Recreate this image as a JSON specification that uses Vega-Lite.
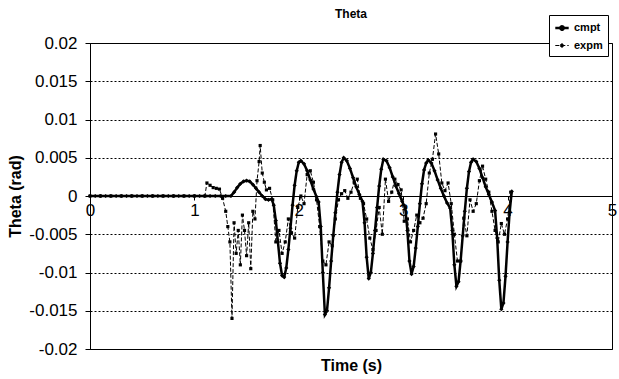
{
  "$schema": "https://vega.github.io/schema/vega-lite/v6.json",
  "width": 522,
  "height": 306,
  "autosize": {"type": "none"},
  "padding": {"left": 90, "top": 43, "right": 7, "bottom": 30},
  "background": "white",
  "title": {"text": "Theta", "font": "Liberation Sans", "fontSize": 12, "fontWeight": "bold", "color": "black", "offset": -6},
  "data": {"values": [
    {"t":0.00,"v":0,"s":"cmpt"},{"t":0.05,"v":0,"s":"cmpt"},{"t":0.10,"v":0,"s":"cmpt"},{"t":0.15,"v":0,"s":"cmpt"},{"t":0.20,"v":0,"s":"cmpt"},{"t":0.25,"v":0,"s":"cmpt"},{"t":0.30,"v":0,"s":"cmpt"},{"t":0.35,"v":0,"s":"cmpt"},{"t":0.40,"v":0,"s":"cmpt"},{"t":0.45,"v":0,"s":"cmpt"},{"t":0.50,"v":0,"s":"cmpt"},{"t":0.55,"v":0,"s":"cmpt"},{"t":0.60,"v":0,"s":"cmpt"},{"t":0.65,"v":0,"s":"cmpt"},{"t":0.70,"v":0,"s":"cmpt"},{"t":0.75,"v":0,"s":"cmpt"},{"t":0.80,"v":0,"s":"cmpt"},{"t":0.85,"v":0,"s":"cmpt"},{"t":0.90,"v":0,"s":"cmpt"},{"t":0.95,"v":0,"s":"cmpt"},{"t":1.00,"v":0,"s":"cmpt"},{"t":1.05,"v":0,"s":"cmpt"},{"t":1.10,"v":0,"s":"cmpt"},{"t":1.15,"v":0,"s":"cmpt"},{"t":1.20,"v":0,"s":"cmpt"},{"t":1.25,"v":0,"s":"cmpt"},{"t":1.30,"v":0,"s":"cmpt"},{"t":1.35,"v":0,"s":"cmpt"},
    {"t":1.38,"v":0.0005,"s":"cmpt"},{"t":1.41,"v":0.0011,"s":"cmpt"},{"t":1.44,"v":0.0016,"s":"cmpt"},{"t":1.47,"v":0.0019,"s":"cmpt"},{"t":1.50,"v":0.0020,"s":"cmpt"},{"t":1.53,"v":0.0019,"s":"cmpt"},{"t":1.56,"v":0.0015,"s":"cmpt"},{"t":1.59,"v":0.0010,"s":"cmpt"},{"t":1.62,"v":0.0005,"s":"cmpt"},{"t":1.65,"v":0.0000,"s":"cmpt"},{"t":1.68,"v":-0.0004,"s":"cmpt"},{"t":1.71,"v":-0.0005,"s":"cmpt"},{"t":1.74,"v":-0.0004,"s":"cmpt"},
    {"t":1.76,"v":-0.0012,"s":"cmpt"},{"t":1.78,"v":-0.0032,"s":"cmpt"},{"t":1.80,"v":-0.0060,"s":"cmpt"},{"t":1.82,"v":-0.0088,"s":"cmpt"},{"t":1.84,"v":-0.0104,"s":"cmpt"},{"t":1.86,"v":-0.0106,"s":"cmpt"},{"t":1.88,"v":-0.0094,"s":"cmpt"},{"t":1.90,"v":-0.0070,"s":"cmpt"},{"t":1.92,"v":-0.0042,"s":"cmpt"},{"t":1.94,"v":-0.0012,"s":"cmpt"},{"t":1.96,"v":0.0014,"s":"cmpt"},{"t":1.98,"v":0.0033,"s":"cmpt"},{"t":2.00,"v":0.0044,"s":"cmpt"},{"t":2.02,"v":0.0046,"s":"cmpt"},{"t":2.05,"v":0.0042,"s":"cmpt"},{"t":2.08,"v":0.0033,"s":"cmpt"},{"t":2.11,"v":0.0021,"s":"cmpt"},{"t":2.14,"v":0.0009,"s":"cmpt"},{"t":2.17,"v":-0.0001,"s":"cmpt"},{"t":2.19,"v":-0.0008,"s":"cmpt"},
    {"t":2.21,"v":-0.0040,"s":"cmpt"},{"t":2.23,"v":-0.0100,"s":"cmpt"},{"t":2.25,"v":-0.0155,"s":"cmpt"},{"t":2.27,"v":-0.0150,"s":"cmpt"},{"t":2.29,"v":-0.0120,"s":"cmpt"},{"t":2.31,"v":-0.0085,"s":"cmpt"},{"t":2.33,"v":-0.0052,"s":"cmpt"},{"t":2.35,"v":-0.0022,"s":"cmpt"},{"t":2.37,"v":0.0005,"s":"cmpt"},{"t":2.39,"v":0.0028,"s":"cmpt"},{"t":2.41,"v":0.0044,"s":"cmpt"},{"t":2.43,"v":0.0050,"s":"cmpt"},{"t":2.46,"v":0.0046,"s":"cmpt"},{"t":2.49,"v":0.0036,"s":"cmpt"},{"t":2.52,"v":0.0024,"s":"cmpt"},{"t":2.55,"v":0.0012,"s":"cmpt"},{"t":2.58,"v":0.0002,"s":"cmpt"},{"t":2.61,"v":-0.0007,"s":"cmpt"},
    {"t":2.63,"v":-0.0035,"s":"cmpt"},{"t":2.65,"v":-0.0080,"s":"cmpt"},{"t":2.67,"v":-0.0108,"s":"cmpt"},{"t":2.69,"v":-0.0100,"s":"cmpt"},{"t":2.71,"v":-0.0075,"s":"cmpt"},{"t":2.73,"v":-0.0045,"s":"cmpt"},{"t":2.75,"v":-0.0015,"s":"cmpt"},{"t":2.77,"v":0.0013,"s":"cmpt"},{"t":2.79,"v":0.0035,"s":"cmpt"},{"t":2.81,"v":0.0048,"s":"cmpt"},{"t":2.84,"v":0.0046,"s":"cmpt"},{"t":2.87,"v":0.0037,"s":"cmpt"},{"t":2.90,"v":0.0025,"s":"cmpt"},{"t":2.93,"v":0.0013,"s":"cmpt"},{"t":2.96,"v":0.0003,"s":"cmpt"},{"t":2.99,"v":-0.0007,"s":"cmpt"},{"t":3.02,"v":-0.0016,"s":"cmpt"},
    {"t":3.04,"v":-0.0045,"s":"cmpt"},{"t":3.06,"v":-0.0085,"s":"cmpt"},{"t":3.08,"v":-0.0102,"s":"cmpt"},{"t":3.10,"v":-0.0092,"s":"cmpt"},{"t":3.12,"v":-0.0068,"s":"cmpt"},{"t":3.14,"v":-0.0040,"s":"cmpt"},{"t":3.16,"v":-0.0010,"s":"cmpt"},{"t":3.18,"v":0.0016,"s":"cmpt"},{"t":3.20,"v":0.0034,"s":"cmpt"},{"t":3.22,"v":0.0043,"s":"cmpt"},{"t":3.24,"v":0.0047,"s":"cmpt"},{"t":3.27,"v":0.0043,"s":"cmpt"},{"t":3.30,"v":0.0033,"s":"cmpt"},{"t":3.33,"v":0.0021,"s":"cmpt"},{"t":3.36,"v":0.0010,"s":"cmpt"},{"t":3.39,"v":0.0000,"s":"cmpt"},{"t":3.42,"v":-0.0009,"s":"cmpt"},{"t":3.45,"v":-0.0016,"s":"cmpt"},
    {"t":3.47,"v":-0.0045,"s":"cmpt"},{"t":3.49,"v":-0.0090,"s":"cmpt"},{"t":3.51,"v":-0.0118,"s":"cmpt"},{"t":3.53,"v":-0.0112,"s":"cmpt"},{"t":3.55,"v":-0.0085,"s":"cmpt"},{"t":3.57,"v":-0.0052,"s":"cmpt"},{"t":3.59,"v":-0.0020,"s":"cmpt"},{"t":3.61,"v":0.0010,"s":"cmpt"},{"t":3.63,"v":0.0032,"s":"cmpt"},{"t":3.65,"v":0.0044,"s":"cmpt"},{"t":3.67,"v":0.0048,"s":"cmpt"},{"t":3.70,"v":0.0045,"s":"cmpt"},{"t":3.73,"v":0.0036,"s":"cmpt"},{"t":3.76,"v":0.0024,"s":"cmpt"},{"t":3.79,"v":0.0012,"s":"cmpt"},{"t":3.82,"v":0.0002,"s":"cmpt"},{"t":3.85,"v":-0.0008,"s":"cmpt"},{"t":3.88,"v":-0.0019,"s":"cmpt"},
    {"t":3.90,"v":-0.0055,"s":"cmpt"},{"t":3.92,"v":-0.0110,"s":"cmpt"},{"t":3.94,"v":-0.0148,"s":"cmpt"},{"t":3.96,"v":-0.0140,"s":"cmpt"},{"t":3.98,"v":-0.0105,"s":"cmpt"},{"t":4.00,"v":-0.0060,"s":"cmpt"},{"t":4.02,"v":-0.0020,"s":"cmpt"},{"t":4.04,"v":0.0006,"s":"cmpt"},
    {"t":0.0,"v":0,"s":"expm"},{"t":0.1,"v":0,"s":"expm"},{"t":0.2,"v":0,"s":"expm"},{"t":0.3,"v":0,"s":"expm"},{"t":0.4,"v":0,"s":"expm"},{"t":0.5,"v":0,"s":"expm"},{"t":0.6,"v":0,"s":"expm"},{"t":0.7,"v":0,"s":"expm"},{"t":0.8,"v":0,"s":"expm"},{"t":0.9,"v":0,"s":"expm"},{"t":1.0,"v":0,"s":"expm"},{"t":1.1,"v":0,"s":"expm"},
    {"t":1.12,"v":0.0017,"s":"expm"},{"t":1.15,"v":0.0014,"s":"expm"},{"t":1.18,"v":0.0011,"s":"expm"},{"t":1.21,"v":0.0010,"s":"expm"},{"t":1.24,"v":0.0009,"s":"expm"},{"t":1.27,"v":-0.0003,"s":"expm"},{"t":1.30,"v":-0.0020,"s":"expm"},{"t":1.32,"v":-0.0040,"s":"expm"},{"t":1.34,"v":-0.0060,"s":"expm"},{"t":1.36,"v":-0.0160,"s":"expm"},{"t":1.38,"v":-0.0035,"s":"expm"},{"t":1.40,"v":-0.0075,"s":"expm"},{"t":1.42,"v":-0.0045,"s":"expm"},{"t":1.44,"v":-0.0090,"s":"expm"},{"t":1.46,"v":-0.0025,"s":"expm"},{"t":1.48,"v":-0.0045,"s":"expm"},{"t":1.50,"v":-0.0078,"s":"expm"},{"t":1.52,"v":-0.0035,"s":"expm"},{"t":1.54,"v":-0.0095,"s":"expm"},{"t":1.56,"v":-0.0020,"s":"expm"},{"t":1.58,"v":-0.0030,"s":"expm"},{"t":1.60,"v":0.0020,"s":"expm"},{"t":1.62,"v":0.0045,"s":"expm"},{"t":1.63,"v":0.0066,"s":"expm"},{"t":1.65,"v":0.0030,"s":"expm"},{"t":1.67,"v":0.0018,"s":"expm"},{"t":1.69,"v":0.0008,"s":"expm"},{"t":1.72,"v":0.0010,"s":"expm"},{"t":1.75,"v":-0.0005,"s":"expm"},{"t":1.78,"v":-0.0060,"s":"expm"},{"t":1.81,"v":-0.0045,"s":"expm"},{"t":1.84,"v":-0.0075,"s":"expm"},{"t":1.87,"v":-0.0060,"s":"expm"},{"t":1.90,"v":-0.0030,"s":"expm"},{"t":1.93,"v":-0.0048,"s":"expm"},{"t":1.96,"v":-0.0055,"s":"expm"},{"t":1.99,"v":-0.0015,"s":"expm"},{"t":2.02,"v":0.0000,"s":"expm"},{"t":2.05,"v":-0.0010,"s":"expm"},{"t":2.08,"v":0.0028,"s":"expm"},{"t":2.11,"v":0.0033,"s":"expm"},{"t":2.14,"v":0.0018,"s":"expm"},{"t":2.17,"v":-0.0005,"s":"expm"},{"t":2.20,"v":-0.0040,"s":"expm"},{"t":2.23,"v":-0.0085,"s":"expm"},{"t":2.26,"v":-0.0090,"s":"expm"},{"t":2.29,"v":-0.0060,"s":"expm"},{"t":2.32,"v":-0.0065,"s":"expm"},{"t":2.35,"v":-0.0030,"s":"expm"},{"t":2.38,"v":-0.0005,"s":"expm"},{"t":2.41,"v":0.0003,"s":"expm"},{"t":2.44,"v":0.0007,"s":"expm"},{"t":2.47,"v":-0.0003,"s":"expm"},{"t":2.50,"v":0.0005,"s":"expm"},{"t":2.53,"v":0.0018,"s":"expm"},{"t":2.56,"v":0.0022,"s":"expm"},{"t":2.59,"v":-0.0003,"s":"expm"},{"t":2.62,"v":-0.0010,"s":"expm"},{"t":2.65,"v":-0.0030,"s":"expm"},{"t":2.68,"v":-0.0055,"s":"expm"},{"t":2.71,"v":-0.0070,"s":"expm"},{"t":2.74,"v":-0.0045,"s":"expm"},{"t":2.77,"v":-0.0015,"s":"expm"},{"t":2.80,"v":-0.0050,"s":"expm"},{"t":2.83,"v":0.0022,"s":"expm"},{"t":2.86,"v":-0.0007,"s":"expm"},{"t":2.89,"v":0.0005,"s":"expm"},{"t":2.92,"v":0.0022,"s":"expm"},{"t":2.95,"v":0.0015,"s":"expm"},{"t":2.98,"v":0.0008,"s":"expm"},{"t":3.01,"v":-0.0033,"s":"expm"},{"t":3.04,"v":-0.0030,"s":"expm"},{"t":3.07,"v":-0.0060,"s":"expm"},{"t":3.10,"v":-0.0045,"s":"expm"},{"t":3.13,"v":-0.0025,"s":"expm"},{"t":3.16,"v":-0.0035,"s":"expm"},{"t":3.19,"v":-0.0029,"s":"expm"},{"t":3.22,"v":-0.0010,"s":"expm"},{"t":3.25,"v":0.0030,"s":"expm"},{"t":3.28,"v":0.0048,"s":"expm"},{"t":3.31,"v":0.0081,"s":"expm"},{"t":3.34,"v":0.0055,"s":"expm"},{"t":3.37,"v":0.0017,"s":"expm"},{"t":3.40,"v":0.0007,"s":"expm"},{"t":3.43,"v":0.0017,"s":"expm"},{"t":3.46,"v":-0.0010,"s":"expm"},{"t":3.49,"v":-0.0050,"s":"expm"},{"t":3.52,"v":-0.0085,"s":"expm"},{"t":3.55,"v":-0.0085,"s":"expm"},{"t":3.58,"v":-0.0029,"s":"expm"},{"t":3.61,"v":-0.0052,"s":"expm"},{"t":3.64,"v":-0.0005,"s":"expm"},{"t":3.67,"v":-0.0020,"s":"expm"},{"t":3.70,"v":-0.0010,"s":"expm"},{"t":3.73,"v":0.0020,"s":"expm"},{"t":3.76,"v":0.0039,"s":"expm"},{"t":3.79,"v":0.0022,"s":"expm"},{"t":3.82,"v":0.0005,"s":"expm"},{"t":3.85,"v":-0.0020,"s":"expm"},{"t":3.88,"v":-0.0045,"s":"expm"},{"t":3.91,"v":-0.0060,"s":"expm"},{"t":3.94,"v":-0.0036,"s":"expm"},{"t":3.97,"v":-0.0050,"s":"expm"},{"t":4.00,"v":-0.0030,"s":"expm"},{"t":4.03,"v":0.0005,"s":"expm"}
  ]},
  "encoding": {
    "x": {"field": "t", "type": "quantitative", "scale": {"domain": [0, 5], "nice": false, "zero": false},
      "axis": {"title": "Time (s)", "values": [0, 1, 2, 3, 4, 5], "labelExpr": "toString(datum.value)", "offset": -153, "grid": false,
        "domainColor": "black", "tickColor": "black", "tickSize": 4, "labelFont": "Liberation Sans", "labelFontSize": 17, "labelColor": "black",
        "labelPadding": 2, "labelFlush": false, "labelOverlap": false,
        "titleFont": "Liberation Sans", "titleFontSize": 16, "titleFontWeight": "bold", "titleColor": "black", "titleY": 169, "titleBaseline": "middle"}},
    "y": {"field": "v", "type": "quantitative", "scale": {"domain": [-0.02, 0.02], "nice": false},
      "axis": {"title": "Theta (rad)", "values": [-0.02, -0.015, -0.01, -0.005, 0, 0.005, 0.01, 0.015, 0.02], "labelExpr": "toString(datum.value)",
        "grid": true, "gridColor": "black", "gridDash": [2, 2], "gridWidth": 1, "gridOpacity": 1,
        "domainColor": "black", "tickColor": "black", "tickSize": 5, "labelPadding": 8, "labelFont": "Liberation Sans", "labelFontSize": 17, "labelColor": "black", "labelOverlap": false,
        "titleFont": "Liberation Sans", "titleFontSize": 16, "titleFontWeight": "bold", "titleColor": "black",
        "titleX": -75, "titleY": 153, "titleAngle": -90, "titleAlign": "center", "titleBaseline": "middle"}}
  },
  "layer": [
    {
      "mark": {"type": "line", "color": "black"},
      "encoding": {
        "strokeDash": {"field": "s", "type": "nominal", "scale": {"domain": ["cmpt", "expm"], "range": [[1, 0], [4, 2]]},
          "legend": {"title": null, "orient": "none", "legendX": 459, "legendY": -28, "strokeColor": "black", "fillColor": "white",
            "padding": 5, "rowPadding": 3, "labelFont": "Liberation Sans", "labelFontSize": 11, "labelFontWeight": "bold", "labelColor": "black", "labelOffset": 4,
            "symbolType": "M-1,0H1M-0.25,0A0.25,0.25 0 1 1 0.25,0A0.25,0.25 0 1 1 -0.25,0Z", "symbolSize": 180, "symbolStrokeColor": "black", "symbolFillColor": "black", "symbolStrokeWidth": 1.2}},
        "strokeWidth": {"field": "s", "type": "nominal", "scale": {"domain": ["cmpt", "expm"], "range": [2.5, 1]}, "legend": null}
      }
    },
    {
      "transform": [{"filter": "datum.s === 'cmpt'"}],
      "mark": {"type": "point", "filled": true, "color": "black", "opacity": 1, "size": 18, "shape": "diamond"}
    },
    {
      "transform": [{"filter": "datum.s === 'expm'"}],
      "mark": {"type": "point", "filled": true, "color": "black", "opacity": 1, "size": 10, "shape": "square"}
    }
  ],
  "config": {"view": {"stroke": "black", "strokeWidth": 1}}
}
